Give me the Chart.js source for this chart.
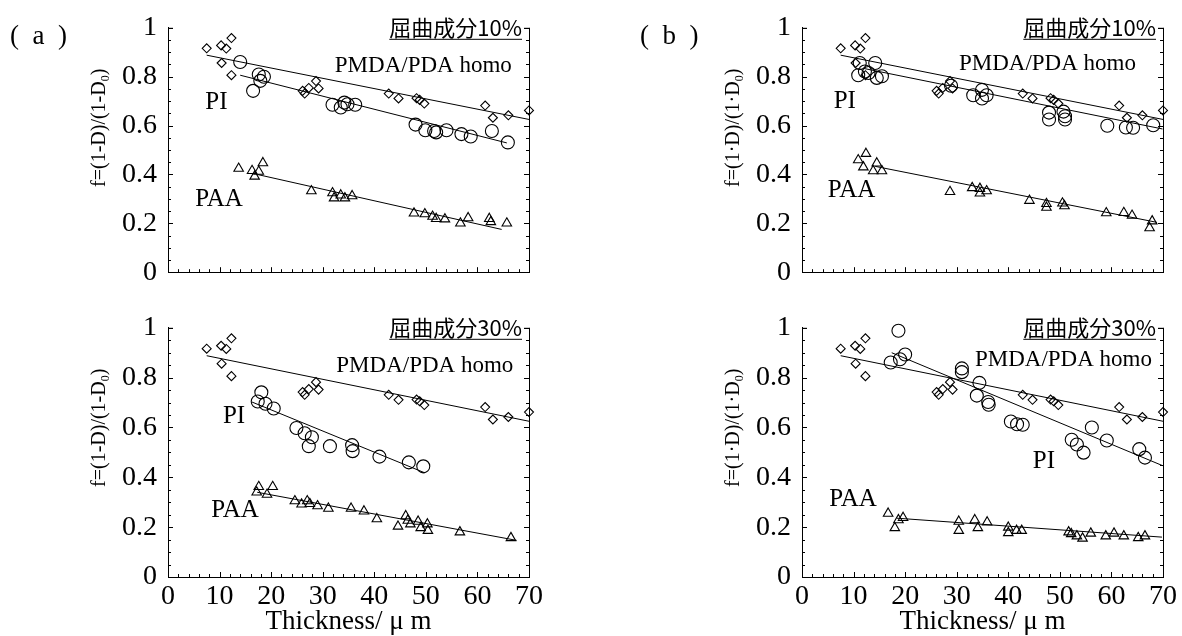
<!DOCTYPE html>
<html>
<head>
<meta charset="utf-8">
<script src="https://cdn.jsdelivr.net/npm/chart.js@4.4.0/dist/chart.umd.min.js"></script>
<style>
  html, body { margin: 0; padding: 0; background: #fff; }
  body { width: 1182px; height: 636px; position: relative; overflow: hidden; }
  .panel { position: absolute; }
</style>
</head>
<body>
<div class="panel" style="left:0;top:0;width:560px;height:300px"><canvas id="a10"></canvas></div>
<div class="panel" style="left:0;top:300px;width:560px;height:336px"><canvas id="a30"></canvas></div>
<div class="panel" style="left:591px;top:0;width:591px;height:300px"><canvas id="b10"></canvas></div>
<div class="panel" style="left:591px;top:300px;width:591px;height:336px"><canvas id="b30"></canvas></div>
<script>
// ==================== DATA ====================

const xTickLabels = ['0', '10', '20', '30', '40', '50', '60', '70'];
const yTickLabels = ['0', '0.2', '0.4', '0.6', '0.8', '1'];

// PMDA/PDA homo (same samples in every panel)
const homo = [[7.5, 0.916], [10.3, 0.928], [11.3, 0.915], [12.3, 0.958], [10.4, 0.856], [12.3, 0.806],
  [26.1, 0.742], [26.5, 0.731], [27.3, 0.754], [28.7, 0.782], [29.2, 0.752],
  [42.8, 0.731], [44.7, 0.711], [48.2, 0.712], [48.8, 0.705], [49.7, 0.690],
  [61.5, 0.682], [63.0, 0.632], [66.0, 0.642], [70.0, 0.662]];
const homoFit = [[7.5, 0.888], [70, 0.625]];

// (a) 屈曲成分10%
const a10Pi = [[14.0, 0.860], [16.5, 0.742], [17.6, 0.809], [18.6, 0.800], [17.9, 0.783],
  [31.9, 0.685], [33.5, 0.674], [34.2, 0.694], [34.8, 0.687], [36.3, 0.685],
  [48.0, 0.604], [49.9, 0.581], [51.6, 0.578], [52.0, 0.572], [54.0, 0.581],
  [56.9, 0.565], [58.7, 0.555], [62.8, 0.578], [65.9, 0.531]];
const a10PiFit = [[14.0, 0.806], [65.7, 0.529]];
const a10Paa = [[13.7, 0.424], [16.3, 0.415], [16.8, 0.392], [17.6, 0.412], [18.4, 0.447],
  [27.8, 0.332], [31.9, 0.324], [32.2, 0.303], [33.5, 0.315], [34.3, 0.303], [35.7, 0.312],
  [47.7, 0.241], [49.8, 0.238], [51.3, 0.228], [52.0, 0.219], [53.7, 0.217],
  [56.7, 0.200], [58.2, 0.222], [62.3, 0.219], [62.6, 0.206], [65.7, 0.200]];
const a10PaaFit = [[17.3, 0.400], [64.7, 0.175]];

// (a) 屈曲成分30%
const a30Pi = [[18.1, 0.741], [17.4, 0.704], [18.9, 0.695], [20.5, 0.676], [24.9, 0.598],
  [26.5, 0.577], [27.9, 0.561], [27.3, 0.525], [31.4, 0.525], [35.7, 0.529], [35.8, 0.505],
  [41.0, 0.483], [46.7, 0.460], [49.5, 0.444]];
const a30PiFit = [[16.3, 0.702], [49.8, 0.418]];
const a30Paa = [[17.6, 0.362], [17.2, 0.340], [19.2, 0.331], [20.3, 0.362], [24.6, 0.305],
  [25.9, 0.292], [27.0, 0.305], [27.5, 0.294], [29.0, 0.285], [31.1, 0.275], [35.5, 0.275],
  [38.0, 0.264], [40.5, 0.233], [44.6, 0.203], [46.1, 0.245], [46.5, 0.227], [47.0, 0.212],
  [48.5, 0.223], [49.0, 0.197], [50.3, 0.212], [50.4, 0.186], [56.6, 0.180], [66.5, 0.157]];
const a30PaaFit = [[17.3, 0.340], [67.6, 0.147]];

// (b) 屈曲成分10%
const b10Pi = [[11.2, 0.856], [10.9, 0.806], [12.2, 0.821], [12.9, 0.815], [14.2, 0.856],
  [14.5, 0.795], [15.5, 0.802], [28.9, 0.763], [33.2, 0.724], [34.9, 0.746], [34.9, 0.711],
  [35.8, 0.724], [47.9, 0.653], [47.9, 0.625], [50.7, 0.657], [51.0, 0.638], [51.0, 0.625],
  [59.2, 0.599], [62.8, 0.592], [64.2, 0.591], [68.1, 0.601]];
const b10PiFit = [[11.9, 0.834], [69.9, 0.586]];
const b10Paa = [[10.9, 0.459], [12.4, 0.485], [11.9, 0.430], [13.8, 0.414], [14.5, 0.446],
  [15.5, 0.414], [28.7, 0.329], [33.0, 0.345], [34.5, 0.342], [34.5, 0.323], [35.8, 0.332],
  [44.1, 0.293], [47.4, 0.280], [47.4, 0.265], [50.5, 0.282], [50.9, 0.271],
  [59.0, 0.242], [62.4, 0.243], [64.0, 0.232], [67.9, 0.209], [67.4, 0.181]];
const b10PaaFit = [[14.2, 0.433], [68.8, 0.204]];

// (b) 屈曲成分30%
const b30Pi = [[18.7, 0.988], [17.2, 0.861], [19.0, 0.874], [20.0, 0.893], [31.0, 0.837],
  [31.0, 0.822], [34.4, 0.779], [33.9, 0.728], [36.1, 0.702], [36.2, 0.691], [40.5, 0.624],
  [41.7, 0.613], [42.8, 0.611], [52.3, 0.551], [53.3, 0.532], [54.6, 0.499], [56.2, 0.600],
  [59.1, 0.548], [65.4, 0.513], [66.5, 0.479]];
const b30PiFit = [[17.4, 0.900], [69.9, 0.447]];
const b30Paa = [[16.7, 0.255], [18.0, 0.197], [18.7, 0.229], [19.6, 0.238], [30.4, 0.223],
  [30.4, 0.186], [33.5, 0.229], [34.1, 0.197], [35.9, 0.220], [40.0, 0.199], [40.0, 0.177],
  [41.6, 0.186], [42.6, 0.186], [51.7, 0.180], [52.2, 0.173], [53.3, 0.164], [54.4, 0.155],
  [56.0, 0.175], [58.9, 0.164], [60.5, 0.175], [62.4, 0.164], [65.2, 0.157], [66.5, 0.164]];
const b30PaaFit = [[18.4, 0.236], [69.8, 0.160]];

// ==================== CHARTS ====================

const SERIF = '"Liberation Serif", "Times New Roman", serif';
const CJK = '"Noto Sans CJK JP", "Liberation Serif", sans-serif';
Chart.defaults.font.family = SERIF;
Chart.defaults.color = '#000';

const panels = [
  {
    id: 'a10', tag: '(  a  )', tagX: 10, flag: '屈曲成分10%', showX: false,
    yAxisW: 168, xAxisH: 18, padTop: 23, padRight: 31, dot: '-',
    pi: a10Pi, piFit: a10PiFit, paa: a10Paa, paaFit: a10PaaFit,
    notes: [['PMDA/PDA homo', 49.5, 0.844, 23], ['PI', 9.4, 0.696, 25], ['PAA', 9.9, 0.299, 25]]
  },
  {
    id: 'a30', flag: '屈曲成分30%', showX: true,
    yAxisW: 168, xAxisH: 59, padTop: 21, padRight: 31, dot: '-',
    pi: a30Pi, piFit: a30PiFit, paa: a30Paa, paaFit: a30PaaFit,
    notes: [['PMDA/PDA homo', 49.8, 0.848, 23], ['PI', 12.8, 0.646, 25], ['PAA', 13.0, 0.266, 25]]
  },
  {
    id: 'b10', tag: '(  b  )', tagX: 49, flag: '屈曲成分10%', showX: false,
    yAxisW: 211, xAxisH: 19, padTop: 24, padRight: 19, dot: '·',
    pi: b10Pi, piFit: b10PiFit, paa: b10Paa, paaFit: b10PaaFit,
    notes: [['PMDA/PDA homo', 47.6, 0.854, 23], ['PI', 8.3, 0.698, 25], ['PAA', 9.6, 0.333, 25]]
  },
  {
    id: 'b30', flag: '屈曲成分30%', showX: true,
    yAxisW: 211, xAxisH: 59, padTop: 21, padRight: 19, dot: '·',
    pi: b30Pi, piFit: b30PiFit, paa: b30Paa, paaFit: b30PaaFit,
    notes: [['PMDA/PDA homo', 50.7, 0.871, 23], ['PI', 46.9, 0.464, 25], ['PAA', 9.9, 0.311, 25]]
  }
];

function toXY(list) {
  return list.map(p => ({ x: p[0], y: p[1] }));
}

function markers(list, style, radius) {
  return {
    data: toXY(list),
    showLine: false,
    pointStyle: style,
    pointRadius: radius,
    pointHoverRadius: radius,
    pointBorderColor: '#000',
    pointBackgroundColor: 'rgba(0,0,0,0)',
    pointBorderWidth: 1.1,
    clip: false
  };
}

function fitLine(list) {
  return {
    data: toXY(list),
    showLine: true,
    borderColor: '#000',
    borderWidth: 1,
    pointRadius: 0,
    fill: false,
    clip: false
  };
}

// frame: right border, corner stubs and inward ticks
const framePlugin = {
  id: 'frame',
  afterDraw(chart) {
    const { ctx, chartArea: a, scales } = chart;
    ctx.save();
    ctx.strokeStyle = '#000';
    ctx.lineWidth = 1;
    ctx.beginPath();
    ctx.moveTo(a.right + 0.5, a.top);
    ctx.lineTo(a.right + 0.5, a.bottom);
    // small stubs at the open top
    ctx.moveTo(a.left, a.top + 0.5);
    ctx.lineTo(a.left + 5, a.top + 0.5);
    ctx.moveTo(a.right + 0.5, a.top + 0.5);
    ctx.lineTo(a.right - 5, a.top + 0.5);
    for (let i = 0; i <= 20; i++) {
      const y = Math.round(scales.y.getPixelForValue(i / 20)) + 0.5;
      const len = i % 4 === 0 ? 5 : 3;
      ctx.moveTo(a.left, y);
      ctx.lineTo(a.left + len, y);
      ctx.moveTo(a.right, y);
      ctx.lineTo(a.right - len, y);
    }
    for (let v = 0; v <= 70; v += 2) {
      const x = Math.round(scales.x.getPixelForValue(v)) + 0.5;
      const len = v % 10 === 0 ? 5 : 3;
      ctx.moveTo(x, a.bottom);
      ctx.lineTo(x, a.bottom - len);
    }
    ctx.stroke();
    ctx.restore();
  }
};

// texts: panel tag, underlined flag, series names, y title
const notesPlugin = {
  id: 'notes',
  afterDatasetsDraw(chart, args, opts) {
    const p = opts.panel;
    const { ctx, chartArea: a, scales } = chart;
    ctx.save();
    ctx.fillStyle = '#000';

    if (p.tag) {
      ctx.font = '27px ' + SERIF;
      ctx.textAlign = 'left';
      ctx.textBaseline = 'alphabetic';
      ctx.fillText(p.tag, p.tagX, 44);
    }

    ctx.font = '22px ' + CJK;
    ctx.textAlign = 'right';
    ctx.textBaseline = 'alphabetic';
    const rx = a.right - 7;
    const by = a.top + 8;
    ctx.fillText(p.flag, rx, by);
    const fw = ctx.measureText(p.flag).width;
    ctx.fillRect(rx - fw, by + 3, fw, 1);

    ctx.textAlign = 'center';
    ctx.textBaseline = 'middle';
    p.notes.forEach(([text, xv, yv, size]) => {
      ctx.font = size + 'px ' + SERIF;
      ctx.fillText(text, scales.x.getPixelForValue(xv), scales.y.getPixelForValue(yv));
    });

    // y title with subscript 0
    const parts = ['f=(1' + p.dot + 'D)/(1' + p.dot + 'D', '0', ')'];
    const big = '20px ' + SERIF;
    const small = '12px ' + SERIF;
    ctx.translate(a.left - 68, a.top + 100);
    ctx.rotate(-Math.PI / 2);
    ctx.textAlign = 'left';
    ctx.font = big;
    const w1 = ctx.measureText(parts[0]).width;
    const w3 = ctx.measureText(parts[2]).width;
    ctx.font = small;
    const w2 = ctx.measureText(parts[1]).width;
    const sx = -(w1 + w2 + w3) / 2;
    ctx.font = big;
    ctx.fillText(parts[0], sx, 0);
    ctx.font = small;
    ctx.fillText(parts[1], sx + w1, 6);
    ctx.font = big;
    ctx.fillText(parts[2], sx + w1 + w2, 0);
    ctx.restore();
  }
};

panels.forEach(p => {
  const ctx = document.getElementById(p.id);
  new Chart(ctx, {
    type: 'scatter',
    data: {
      datasets: [
        fitLine(homoFit),
        fitLine(p.piFit),
        fitLine(p.paaFit),
        markers(homo, 'rectRot', 4.5),
        markers(p.pi, 'circle', 6.5),
        markers(p.paa, 'triangle', 5.5)
      ]
    },
    options: {
      responsive: true,
      maintainAspectRatio: false,
      animation: false,
      events: [],
      layout: { autoPadding: false, padding: { left: 0, top: p.padTop, right: p.padRight, bottom: 0 } },
      plugins: {
        legend: { display: false },
        tooltip: { enabled: false },
        notes: { panel: p }
      },
      scales: {
        x: {
          type: 'linear',
          min: 0,
          max: 70,
          afterFit: s => { s.height = p.xAxisH; },
          grid: { display: false, drawTicks: false },
          border: { display: true, color: '#000', width: 1 },
          ticks: {
            display: p.showX,
            stepSize: 10,
            autoSkip: false,
            maxRotation: 0,
            padding: 3,
            font: { size: 28 },
            callback: v => xTickLabels[Math.round(v / 10)]
          },
          title: {
            display: p.showX,
            text: 'Thickness/ μ m',
            font: { size: 27, lineHeight: 1 },
            padding: { top: 0, bottom: 1 }
          }
        },
        y: {
          min: 0,
          max: 1,
          afterFit: s => { s.width = p.yAxisW; },
          grid: { display: false, drawTicks: false },
          border: { display: true, color: '#000', width: 1 },
          ticks: {
            stepSize: 0.2,
            padding: 11,
            font: { size: 28 },
            callback: v => yTickLabels[Math.round(v * 5)]
          }
        }
      }
    },
    plugins: [framePlugin, notesPlugin]
  });
});
</script>
</body>
</html>
